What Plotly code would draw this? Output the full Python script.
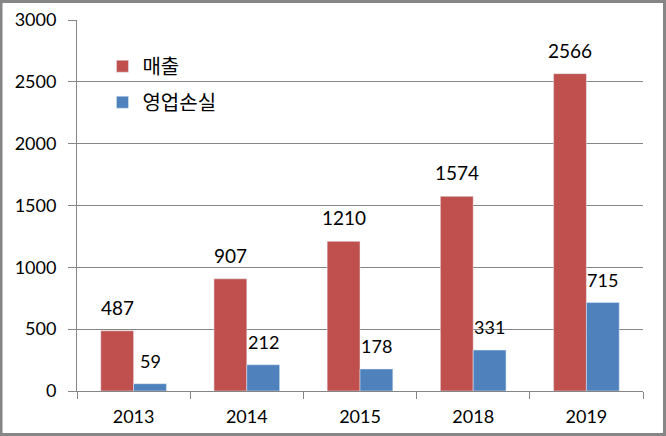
import plotly.graph_objects as go

years = ["2013", "2014", "2015", "2018", "2019"]
sales = [487, 907, 1210, 1574, 2566]
op_loss = [59, 212, 178, 331, 715]
series_names = ["매출", "영업손실"]

red = "#C0504D"
blue = "#4F81BD"
num_font = "Lato, Carlito, 'Noto Sans CJK KR', sans-serif"
kr_font = "'Noto Sans CJK KR', sans-serif"

fig = go.Figure()
fig.add_trace(go.Bar(x=years, y=sales, name=series_names[0], marker_color=red,
                     legendgroup="a"))
fig.add_trace(go.Bar(x=years, y=op_loss, name=series_names[1], marker_color=blue,
                     legendgroup="b"))

# data labels above bars (Excel style, a bit of gap above the bar)
# category axis -> annotations placed by category index
half = 16.4
for i, v in enumerate(sales):
    fig.add_annotation(x=i, y=v, text=str(v), showarrow=False, xshift=-half,
                       yshift=10, yanchor="bottom",
                       font=dict(family=num_font, size=19, color="black"))
for i, v in enumerate(op_loss):
    fig.add_annotation(x=i, y=v, text=str(v), showarrow=False, xshift=half,
                       yshift=10, yanchor="bottom",
                       font=dict(family=num_font, size=18, color="black"))

# outer grey frame of the chart
fig.add_shape(type="rect", xref="paper", yref="paper",
              x0=-76 / 566, x1=1 + 21.5 / 566, y0=-43.5 / 371, y1=1 + 18.5 / 371,
              line=dict(color="#868686", width=3), layer="above")

fig.update_layout(
    width=666, height=436,
    margin=dict(l=77, r=23, t=20, b=45, autoexpand=False),
    paper_bgcolor="white", plot_bgcolor="white",
    barmode="group", bargap=0.42, bargroupgap=0,
    showlegend=True,
    legend=dict(x=0.045, y=0.928, xanchor="left", yanchor="top",
                font=dict(family=kr_font, size=20, color="black"),
                bgcolor="rgba(0,0,0,0)", tracegroupgap=7,
                traceorder="grouped", itemwidth=30),
    font=dict(family=num_font, color="black"),
)
fig.update_xaxes(type="category", range=[-0.5, len(years) - 0.5],
                 showline=True, linecolor="#868686", linewidth=1,
                 ticks="outside", tickson="boundaries", ticklen=7, tickcolor="#868686",
                 ticklabelstandoff=9,
                 tickfont=dict(family=num_font, size=18, color="black"),
                 tickangle=0, showgrid=False, automargin=False)
fig.update_yaxes(range=[0, 3000], dtick=500, showline=True, linecolor="#868686",
                 linewidth=1, ticks="outside", ticklen=8, tickcolor="#868686",
                 ticklabelstandoff=8, automargin=False,
                 showgrid=True, gridcolor="#868686", gridwidth=1, zeroline=False,
                 tickfont=dict(family=num_font, size=18, color="black"))

fig.write_html("out.html", config={"displayModeBar": False},
               post_script="document.body.style.margin='0';")
